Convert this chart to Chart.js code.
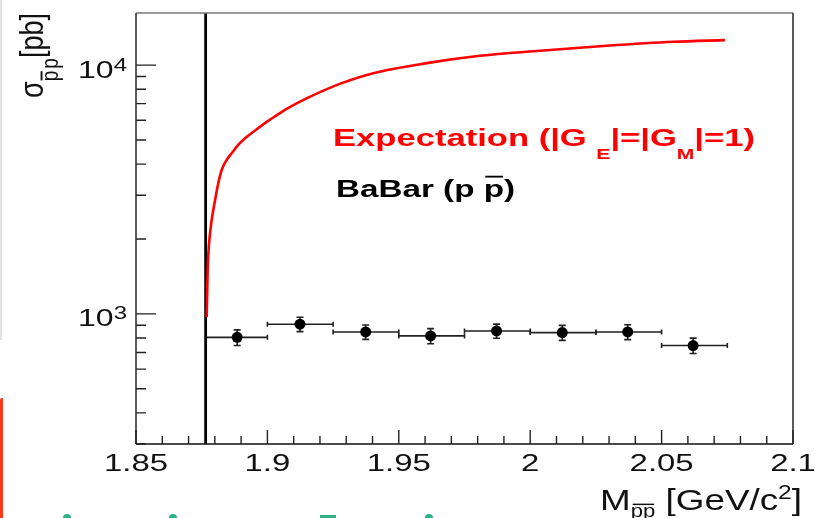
<!DOCTYPE html>
<html>
<head>
<meta charset="utf-8">
<script src="https://cdn.jsdelivr.net/npm/chart.js@4.4.1/dist/chart.umd.min.js"></script>
<style>
html,body{margin:0;padding:0;background:#fff;overflow:hidden}
#wrap{position:relative;width:815px;height:518px}
#c{position:absolute;left:0;top:0}
.deco{position:absolute}
</style>
</head>
<body>
<div id="wrap">
<canvas id="c" width="815" height="518"></canvas>
<div class="deco" style="left:0;top:0;width:2px;height:340px;background:#e2e2e2"></div>
<div class="deco" style="left:0;top:398px;width:3px;height:120px;background:#ff3a1c;border-radius:2px 0 0 0"></div>
<div class="deco" style="left:63px;top:514px;width:8px;height:8px;background:#2db383;border-radius:50%"></div>
<div class="deco" style="left:169px;top:514px;width:8px;height:8px;background:#2db383;border-radius:50%"></div>
<div class="deco" style="left:320px;top:515px;width:16px;height:5px;background:#2db383"></div>
<div class="deco" style="left:425px;top:514px;width:8px;height:8px;background:#2db383;border-radius:50%"></div>
</div>
<script>
// ---- axis ranges and ticks ----
const xMin = 1.85, xMax = 2.1;
const yMin = 300, yMax = 16200;
const xTickMajor = [1.85, 1.90, 1.95, 2.00, 2.05, 2.10];
const xTickLabels = ['1.85', '1.9', '1.95', '2', '2.05', '2.1'];
const xTickMinor = [1.86, 1.87, 1.88, 1.89, 1.91, 1.92, 1.93, 1.94, 1.96, 1.97, 1.98, 1.99,
                    2.01, 2.02, 2.03, 2.04, 2.06, 2.07, 2.08, 2.09];
const yTickMajor = [1000, 10000];
const yTickLabelExp = ['3', '4'];
const yTickMinor = [300, 400, 500, 600, 700, 800, 900, 2000, 3000, 4000, 5000, 6000, 7000, 8000, 9000];

// ---- threshold (2 m_p) ----
const thresholdMass = 1.8765;

// ---- expectation curve (|GE|=|GM|=1) ----
const expMass = [1.8769, 1.8773, 1.8778, 1.8788, 1.8801, 1.8813, 1.8826, 1.8845, 1.8864, 1.8889,
                 1.8915, 1.8953, 1.9003, 1.9029, 1.9080, 1.9169, 1.9283, 1.9403, 1.9606, 1.9809,
                 2.0037, 2.0291, 2.0545, 2.0741];
const expXsec = [972, 1546, 1920, 2384, 2869, 3350, 3788, 4157, 4423, 4777,
                 5083, 5464, 5968, 6222, 6732, 7522, 8465, 9285, 10186, 10900,
                 11418, 11960, 12410, 12608];

// ---- BaBar data ----
const babarMass = [1.8885, 1.9124, 1.9374, 1.9621, 1.9872, 2.0122, 2.0371, 2.0620];
const babarBinLow = [1.8765, 1.900, 1.925, 1.950, 1.975, 2.000, 2.025, 2.050];
const babarBinHigh = [1.900, 1.925, 1.950, 1.975, 2.000, 2.025, 2.050, 2.075];
const babarXsec = [805, 909, 846, 816, 854, 841, 846, 746];
const babarErr = [58, 60, 56, 57, 56, 58, 58, 53];

const FONT = '"Liberation Sans", Arial, Helvetica, sans-serif';
function fontStr(s){ return (s.bold ? 'bold ' : '') + s.size + 'px ' + FONT; }
function measure(ctx, segs){ let w = 0; for (const s of segs){ ctx.font = fontStr(s); w += ctx.measureText(s.t).width; } return w; }
function drawRich(ctx, segs, o){
  ctx.save();
  ctx.translate(o.x, o.y);
  if (o.rot) ctx.rotate(-Math.PI/2);
  const w = measure(ctx, segs);
  const sx = o.width ? o.width / w : (o.sx || 1);
  ctx.scale(sx, o.sy || 1);
  let cx = o.align === 'center' ? -w/2 : 0;
  ctx.fillStyle = o.color; ctx.strokeStyle = o.color;
  ctx.textBaseline = 'alphabetic'; ctx.textAlign = 'left';
  for (const s of segs){
    ctx.font = fontStr(s);
    const sw = ctx.measureText(s.t).width;
    ctx.fillText(s.t, cx, s.dy || 0);
    if (s.over){
      const oy = (s.dy || 0) - s.size * (s.overH || 0.62) - 1.5;
      ctx.lineWidth = Math.max(1.2, s.size * 0.08);
      ctx.beginPath(); ctx.moveTo(cx + sw*0.08, oy); ctx.lineTo(cx + sw*0.95, oy); ctx.stroke();
    }
    cx += sw;
  }
  ctx.restore();
}

const rootStyle = {
  id: 'rootStyle',
  beforeDatasetsDraw(chart){
    const ctx = chart.ctx, xs = chart.scales.x, ys = chart.scales.y;
    ctx.save();
    ctx.strokeStyle = '#222'; ctx.lineWidth = 1.6;
    for (let i = 0; i < babarMass.length; i++){
      const y = ys.getPixelForValue(babarXsec[i]);
      const xl = xs.getPixelForValue(babarBinLow[i]);
      const xh = xs.getPixelForValue(babarBinHigh[i]);
      const xc = xs.getPixelForValue(babarMass[i]);
      const yh = ys.getPixelForValue(babarXsec[i] + babarErr[i]);
      const yl = ys.getPixelForValue(babarXsec[i] - babarErr[i]);
      ctx.beginPath();
      ctx.moveTo(xl, y); ctx.lineTo(xh, y);
      ctx.moveTo(xl, y - 2.5); ctx.lineTo(xl, y + 2.5);
      ctx.moveTo(xh, y - 2.5); ctx.lineTo(xh, y + 2.5);
      ctx.moveTo(xc, yh); ctx.lineTo(xc, yl);
      ctx.moveTo(xc - 3.5, yh); ctx.lineTo(xc + 3.5, yh);
      ctx.moveTo(xc - 3.5, yl); ctx.lineTo(xc + 3.5, yl);
      ctx.stroke();
    }
    ctx.restore();
  },
  afterDatasetsDraw(chart){
    const ctx = chart.ctx, xs = chart.scales.x, ys = chart.scales.y, a = chart.chartArea;
    ctx.save();
    // frame
    ctx.lineWidth = 1.6;
    ctx.strokeStyle = '#777';
    ctx.beginPath(); ctx.moveTo(a.left, a.top); ctx.lineTo(a.right, a.top); ctx.stroke();
    ctx.strokeStyle = '#333';
    ctx.beginPath(); ctx.moveTo(a.right, a.top); ctx.lineTo(a.right, a.bottom); ctx.stroke();
    ctx.beginPath(); ctx.moveTo(a.left, a.top); ctx.lineTo(a.left, a.bottom); ctx.stroke();
    ctx.strokeStyle = '#111';
    ctx.beginPath(); ctx.moveTo(a.left, a.bottom); ctx.lineTo(a.right, a.bottom); ctx.stroke();
    // x ticks (inward)
    ctx.strokeStyle = '#222'; ctx.lineWidth = 1.4;
    ctx.beginPath();
    for (const v of xTickMajor){ const p = xs.getPixelForValue(v); ctx.moveTo(p, a.bottom); ctx.lineTo(p, a.bottom - 14); }
    for (const v of xTickMinor){ const p = xs.getPixelForValue(v); ctx.moveTo(p, a.bottom); ctx.lineTo(p, a.bottom - 8); }
    // y ticks (inward)
    for (const v of yTickMajor){ const p = ys.getPixelForValue(v); ctx.moveTo(a.left, p); ctx.lineTo(a.left + 20, p); }
    for (const v of yTickMinor){ const p = ys.getPixelForValue(v); ctx.moveTo(a.left, p); ctx.lineTo(a.left + 10, p); }
    ctx.stroke();
    ctx.restore();

    // x tick labels
    const probe = [{t:'1.85', size:24}];
    const xsx = 64 / measure(ctx, probe);
    xTickMajor.forEach((v, i) => {
      drawRich(ctx, [{t:xTickLabels[i], size:24}], {x: xs.getPixelForValue(v), y: 470.5, sx: xsx, align:'center', color:'#111'});
    });
    // y tick labels 10^n
    yTickMajor.forEach((v, i) => {
      drawRich(ctx, [{t:'10', size:24}, {t:yTickLabelExp[i], size:18, dy:-7}],
        {x: 78, y: ys.getPixelForValue(v) + 12.5, width: 49, color:'#111'});
    });
    // x title
    drawRich(ctx, [{t:'M', size:30}, {t:'pp', size:18, dy:7, over:true}, {t:' [GeV/c', size:30},
                   {t:'2', size:20, dy:-11}, {t:']', size:30}],
      {x: 600, y: 510, width: 202, color:'#111'});
    // y title (rotated)
    drawRich(ctx, [{t:'σ', size:24}, {t:'p', size:17, dy:11, over:true}, {t:' ', size:6}, {t:'p', size:17, dy:11}, {t:'[pb]', size:24}],
      {x: 43, y: 98, width: 85, sy: 1.4, rot: true, color:'#111'});
    // annotations
    drawRich(ctx, [{t:'Expectation (|G ', size:23, bold:true}, {t:'E', size:14, bold:true, dy:13.5},
                   {t:'|=|G', size:23, bold:true}, {t:'M', size:14, bold:true, dy:13.5}, {t:'|=1)', size:23, bold:true}],
      {x: 333, y: 145.7, width: 422, color:'#ff0000'});
    drawRich(ctx, [{t:'BaBar (p ', size:23, bold:true}, {t:'p', size:23, bold:true, over:true, overH:0.82}, {t:')', size:23, bold:true}],
      {x: 336, y: 197, width: 179, color:'#000'});
  }
};

new Chart(document.getElementById('c').getContext('2d'), {
  type: 'scatter',
  data: {
    datasets: [
      { label: 'BaBar', data: babarMass.map((m, i) => ({x: m, y: babarXsec[i]})),
        showLine: false, pointRadius: 5.5, pointBorderWidth: 0, backgroundColor: '#000', borderColor: '#000', order: 1 },
      { label: 'Expectation', data: expMass.map((m, i) => ({x: m, y: expXsec[i]})),
        showLine: true, borderColor: '#ff0000', borderWidth: 2.6, pointRadius: 0, fill: false,
        cubicInterpolationMode: 'monotone', order: 2 },
      { label: 'Threshold', data: [{x: thresholdMass, y: yMin}, {x: thresholdMass, y: yMax}],
        showLine: true, borderColor: '#000', borderWidth: 2.8, pointRadius: 0, fill: false, order: 3 }
    ]
  },
  options: {
    responsive: false,
    animation: false,
    events: [],
    layout: { padding: { top: 13, right: 22, left: 0, bottom: 0 } },
    plugins: { legend: { display: false }, tooltip: { enabled: false } },
    scales: {
      x: { type: 'linear', min: xMin, max: xMax, ticks: { display: false }, grid: { display: false },
           border: { display: false }, afterFit(s){ s.height = 74; } },
      y: { type: 'logarithmic', min: yMin, max: yMax, ticks: { display: false }, grid: { display: false },
           border: { display: false }, afterFit(s){ s.width = 136; } }
    }
  },
  plugins: [rootStyle]
});
</script>
</body>
</html>
